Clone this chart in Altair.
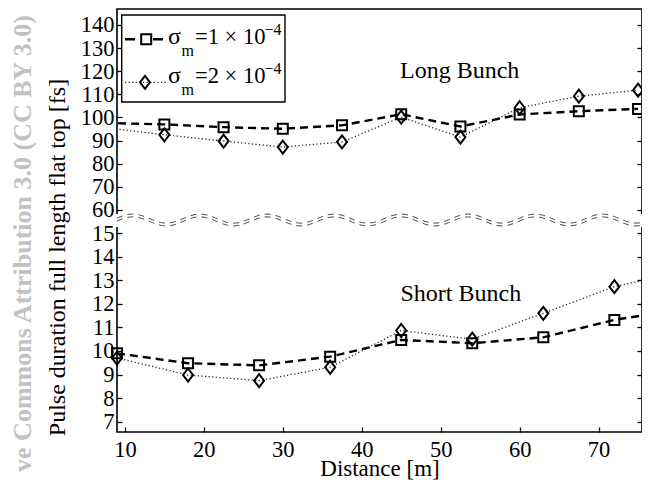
import altair as alt
import pandas as pd

# ---------------- data ----------------
LONG_DIST = [7.5, 15, 22.5, 30, 37.5, 45, 52.5, 60, 67.5, 75]
LONG_S1 = [97.6, 97.0, 95.8, 95.1, 96.6, 101.4, 96.1, 101.3, 102.7, 103.7]
LONG_S2 = [95.6, 92.5, 89.8, 87.2, 89.4, 100.1, 91.5, 104.2, 109.2, 111.8]
SHORT_DIST = [9, 18, 27, 36, 45, 54, 63, 72, 81]
SHORT_S1 = [9.9, 9.48, 9.39, 9.76, 10.47, 10.33, 10.58, 11.32, 11.8]
SHORT_S2 = [9.7, 8.98, 8.74, 9.31, 10.87, 10.5, 11.6, 12.73, 13.37]

X_TICKS = [10, 20, 30, 40, 50, 60, 70]
Y_TICKS_SHORT = [7, 8, 9, 10, 11, 12, 13, 14, 15]
Y_TICKS_LONG = [60, 70, 80, 90, 100, 110, 120, 130, 140]

ANNOT_TEXT = ["Long Bunch", "Short Bunch"]
ANNOT_PANEL = ["long", "short"]
ANNOT_X = [52.4, 52.55]
ANNOT_Y = [117.2, 12.12]

LEGEND_SYMBOL = "σ"
LEGEND_SUB = "m"
LEGEND_NUM = ["1", "2"]
LEGEND_EXP = "−4"

X_TITLE = "Distance [m]"
Y_TITLE = "Pulse duration full length flat top [fs]"
WATERMARK = "ve Commons Attribution 3.0 (CC BY 3.0)"

FONT = "Liberation Serif"

# ---------------- broken-axis geometry ----------------
W, H = 525, 423
X_DOMAIN = [9, 75.5]
BOT_MIN, BOT_PX = 6.56, 23.55      # short-bunch segment
TOP_MAX, TOP_PX = 146.9, 2.3125    # long-bunch segment
BREAK_C = 212.0

rows = []
for x, a, b in zip(LONG_DIST, LONG_S1, LONG_S2):
    rows.append({"panel": "long", "series": "s1", "x": x, "value": a})
    rows.append({"panel": "long", "series": "s2", "x": x, "value": b})
for x, a, b in zip(SHORT_DIST, SHORT_S1, SHORT_S2):
    rows.append({"panel": "short", "series": "s1", "x": x, "value": a})
    rows.append({"panel": "short", "series": "s2", "x": x, "value": b})
df = pd.DataFrame(rows)

annot_df = pd.DataFrame({"text": ANNOT_TEXT, "panel": ANNOT_PANEL, "x": ANNOT_X, "value": ANNOT_Y})

C_EXPR = (f"datum.panel == 'long' ? {H} - ({TOP_MAX} - datum.value) * {TOP_PX}"
          f" : (datum.value - {BOT_MIN}) * {BOT_PX}")

y_tick_vals = ([round((v - BOT_MIN) * BOT_PX, 3) for v in Y_TICKS_SHORT]
               + [round(H - (TOP_MAX - v) * TOP_PX, 3) for v in Y_TICKS_LONG])
LABEL_EXPR = (f"datum.value < {BREAK_C} ? format(datum.value / {BOT_PX} + {BOT_MIN}, '.0f')"
              f" : format({TOP_MAX} - ({H} - datum.value) / {TOP_PX}, '.0f')")

xscale = alt.Scale(domain=X_DOMAIN, nice=False, zero=False)
yscale = alt.Scale(domain=[0, H], nice=False, zero=False)

left_axis = alt.Axis(orient="left", values=y_tick_vals, labelExpr=LABEL_EXPR, offset=-5,
                     tickSize=5, tickWidth=1.3, tickColor="black", domain=False, grid=False,
                     labelPadding=3, labelFont=FONT, labelFontSize=22.5, labelColor="black",
                     labelOverlap=False, labelFlush=False, title=None)
right_axis = alt.Axis(orient="right", values=y_tick_vals, offset=-5, tickSize=5, tickWidth=1.3,
                      tickColor="black", labels=False, domain=False, grid=False, title=None)
x_axis = alt.Axis(orient="bottom", values=X_TICKS, offset=-5, tickSize=5, tickWidth=1.3,
                  tickColor="black", domain=False, grid=False, labelPadding=24,
                  labelBaseline="alphabetic", labelFont=FONT, labelFontSize=22.5,
                  labelColor="black", labelFlush=False, labelOverlap=False,
                  title=X_TITLE, titleFont=FONT, titleFontSize=23, titleFontWeight="normal",
                  titleColor="black", titleBaseline="alphabetic", titleY=48)

base = alt.Chart(df).transform_calculate(c=C_EXPR)

def xy(xaxis=None, yaxis=None):
    return dict(x=alt.X("x:Q", scale=xscale, axis=xaxis),
                y=alt.Y("c:Q", scale=yscale, axis=yaxis))

line1 = base.transform_filter("datum.series == 's1'").mark_line(
    clip=True, color="black", strokeWidth=2.4, strokeDash=[8, 5]
).encode(detail="panel:N", **xy(x_axis, left_axis))

line2 = base.transform_filter("datum.series == 's2'").mark_line(
    clip=True, color="#222222", strokeWidth=1.3, strokeDash=[1.2, 2.4]
).encode(detail="panel:N", **xy())

in_dom = f"datum.x >= {X_DOMAIN[0]} && datum.x <= {X_DOMAIN[1]}"
DIAMOND = "M0,-1.3L1,0L0,1.3L-1,0Z"

pts1 = base.transform_filter("datum.series == 's1'").transform_filter(in_dom).mark_point(
    shape="square", size=100, filled=False, strokeWidth=2, color="black", opacity=1
).encode(**xy(None, right_axis))

pts2 = base.transform_filter("datum.series == 's2'").transform_filter(in_dom).mark_point(
    shape=DIAMOND, size=100, filled=False, strokeWidth=2, color="black", opacity=1
).encode(**xy())

# axis break: white band + two wavy dashed lines
one = pd.DataFrame({"k": [0]})
band = alt.Chart(one).mark_rect(color="white", clip=False).encode(
    x=alt.value(-4), x2=alt.value(W + 4), y=alt.value(205), y2=alt.value(218))

wave_src = alt.Chart(alt.sequence(X_DOMAIN[0], X_DOMAIN[1] + 0.25, 0.25, as_="x"))
wave1 = wave_src.transform_calculate(
    c=f"{BREAK_C} + 1.4 + 4.5 * cos(2 * PI * (datum.x - 11.0) / 8.5)"
).mark_line(color="#444444", strokeWidth=1, strokeDash=[6, 5], clip=False).encode(**xy())
wave2 = wave_src.transform_calculate(
    c=f"{BREAK_C} - 1.4 + 4.5 * cos(2 * PI * (datum.x - 11.0) / 8.5)"
).mark_line(color="#444444", strokeWidth=1, strokeDash=[6, 5], clip=False).encode(**xy())

annot = alt.Chart(annot_df).transform_calculate(c=C_EXPR).mark_text(
    font=FONT, fontSize=24, align="center", baseline="alphabetic", color="black"
).encode(text="text:N", **xy())

# legend (manual, to allow sub/superscripts)
leg_box = alt.Chart(one).mark_rect(fill="white", stroke="black", strokeWidth=1.4).encode(
    x=alt.value(4.7), x2=alt.value(168), y=alt.value(6), y2=alt.value(93))
leg_line1 = alt.Chart(one).mark_rule(color="black", strokeWidth=2.4, strokeDash=[10, 18]).encode(
    x=alt.value(8), x2=alt.value(48), y=alt.value(30.3))
leg_line2 = alt.Chart(one).mark_rule(color="#222222", strokeWidth=1.3, strokeDash=[1.2, 2.4]).encode(
    x=alt.value(8), x2=alt.value(50), y=alt.value(73.3))
leg_pt1 = alt.Chart(one).mark_point(shape="square", size=100, filled=False, strokeWidth=2,
                                    color="black", opacity=1).encode(
    x=alt.value(29.2), y=alt.value(30.3))
leg_pt2 = alt.Chart(one).mark_point(shape=DIAMOND, size=100, filled=False, strokeWidth=2,
                                    color="black", opacity=1).encode(
    x=alt.value(28), y=alt.value(73.3))

def txt(s, x, y, size, **kw):
    return alt.Chart(one).mark_text(font=FONT, fontSize=size, align="left",
                                    baseline="alphabetic", color="black", **kw).encode(
        x=alt.value(x), y=alt.value(y), text=alt.value(s))

legend_texts = []
for i, n in enumerate(LEGEND_NUM):
    yb = 35 + 39 * i
    legend_texts += [
        txt(LEGEND_SYMBOL, 51, yb, 24),
        txt(LEGEND_SUB, 64.5, yb + 11.5, 16),
        txt(f"={n} × 10", 78, yb, 22.5),
        txt(LEGEND_EXP, 147.5, yb - 9.5, 16),
    ]

ytitle = alt.Chart(one).mark_text(font=FONT, fontSize=24, angle=270, align="center",
                                  baseline="alphabetic", color="black").encode(
    x=alt.value(-52), y=alt.value(248.5), text=alt.value(Y_TITLE))
wmark = alt.Chart(one).mark_text(font=FONT, fontSize=26, fontWeight="bold", angle=270,
                                 align="right", baseline="alphabetic", color="#c2c2c2").encode(
    x=alt.value(-86.5), y=alt.value(6), text=alt.value(WATERMARK))

chart = alt.layer(
    line1, line2, pts1, pts2, band, wave1, wave2, annot,
    leg_box, leg_line1, leg_line2, leg_pt1, leg_pt2, *legend_texts, ytitle, wmark
).resolve_axis(x="independent", y="independent").properties(
    width=W, height=H,
    autosize=alt.AutoSizeParams(type="none"),
    padding={"left": 109, "top": 1, "right": 0, "bottom": 48},
    background="white",
).configure_view(stroke="black", strokeWidth=1.6)

chart.save("out.html", embed_options={"renderer": "svg", "actions": False})
